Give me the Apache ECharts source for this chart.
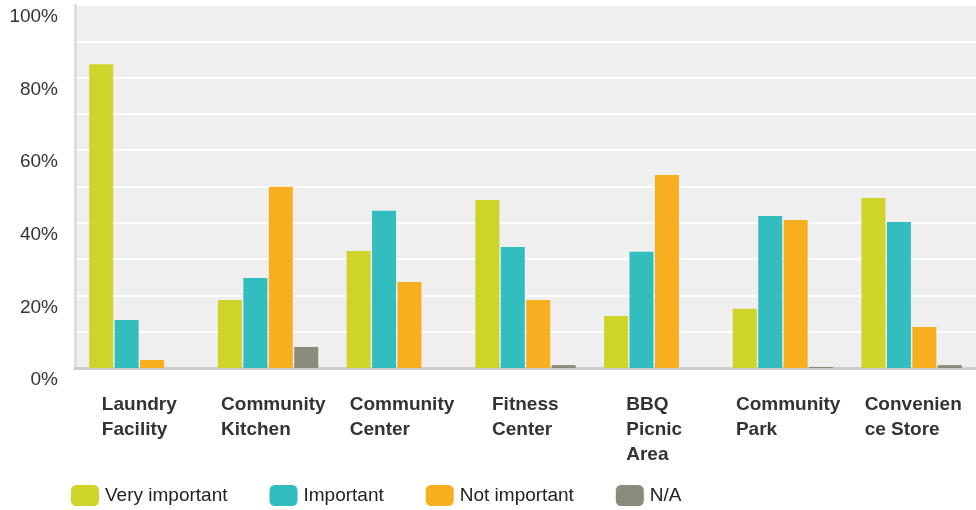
<!DOCTYPE html>
<html>
<head>
<meta charset="utf-8">
<style>
  html, body { margin: 0; padding: 0; background: #ffffff; }
  #chart { width: 976px; height: 510px; }
</style>
<script src="https://cdn.jsdelivr.net/npm/echarts@6/dist/echarts.min.js"></script>
</head>
<body>
<div id="chart"></div>
<script>
// Facility categories (each label line kept as drawn)
const categories = [
  ['Laundry', 'Facility'],
  ['Community', 'Kitchen'],
  ['Community', 'Center'],
  ['Fitness', 'Center'],
  ['BBQ', 'Picnic', 'Area'],
  ['Community', 'Park'],
  ['Convenien', 'ce Store']
];

// Share of responses per rating (%)
const veryImportant = [83.7, 18.7, 32.2, 46.3, 14.3, 16.3, 46.8];
const important     = [13.2, 24.8, 43.3, 33.3, 32.0, 41.9, 40.2];
const notImportant  = [2.2, 49.9, 23.7, 18.7, 53.2, 40.8, 11.3];
const notApplicable = [0, 5.8, 0, 0.8, 0, 0.3, 0.8];

const seriesNames = ['Very important', 'Important', 'Not important', 'N/A'];
const seriesColors = ['#CFD42A', '#33BDBF', '#F7AF20', '#8A8B7B'];

const labelFont = 'bold 19px Arial, "Liberation Sans", sans-serif';

// Width of each category label block: widest line, capped so long words overflow to the right
const measureCtx = document.createElement('canvas').getContext('2d');
measureCtx.font = labelFont;
const rich = {};
categories.forEach((lines, i) => {
  const w = Math.max(...lines.map(l => measureCtx.measureText(l).width));
  rich['c' + i] = {
    width: Math.min(Math.ceil(w), 94),
    align: 'left',
    fontFamily: 'Arial, "Liberation Sans", sans-serif',
    fontWeight: 'bold',
    fontSize: 19,
    lineHeight: 25,
    color: '#333333'
  };
});

const chart = echarts.init(document.getElementById('chart'), null, { renderer: 'canvas' });

const values = [veryImportant, important, notImportant, notApplicable];

chart.setOption({
  animation: false,
  textStyle: { fontFamily: 'Arial, "Liberation Sans", sans-serif' },
  grid: {
    left: 75, right: -4, top: 5, bottom: 142,
    show: true, backgroundColor: '#EFEFEF', borderWidth: 0
  },
  legend: {
    left: 71, top: 485, padding: 0,
    itemWidth: 28, itemHeight: 21, itemGap: 42,
    icon: 'roundRect',
    textStyle: { fontSize: 19, color: '#222222', padding: [0, 0, 0, 1] },
    data: seriesNames
  },
  xAxis: {
    type: 'category',
    data: categories.map((lines, i) => i),
    axisLine: { show: true, lineStyle: { color: '#CCCCCC', width: 3 } },
    axisTick: { show: false },
    axisLabel: {
      interval: 0,
      margin: 24,
      align: 'center',
      verticalAlign: 'top',
      formatter: (v, idx) => categories[idx].map(l => '{c' + idx + '|' + l + '}').join('\n'),
      rich: rich
    },
    splitLine: { show: false }
  },
  yAxis: {
    type: 'value',
    min: 0, max: 100, interval: 20,
    axisLine: { show: true, lineStyle: { color: '#DDDDDD', width: 3 } },
    axisTick: { show: false },
    axisLabel: {
      formatter: '{value}%',
      fontSize: 19,
      color: '#333333',
      margin: 17,
      verticalAlign: 'top',
      lineHeight: 24
    },
    splitLine: { show: true, lineStyle: { color: '#FFFFFF', width: 2 } },
    minorTick: { show: false, splitNumber: 2 },
    minorSplitLine: { show: true, lineStyle: { color: '#FFFFFF', width: 2 } }
  },
  series: seriesNames.map((name, i) => ({
    name: name,
    type: 'bar',
    data: values[i],
    barWidth: 24,
    barGap: '6%',
    itemStyle: { color: seriesColors[i] }
  }))
});
</script>
</body>
</html>
